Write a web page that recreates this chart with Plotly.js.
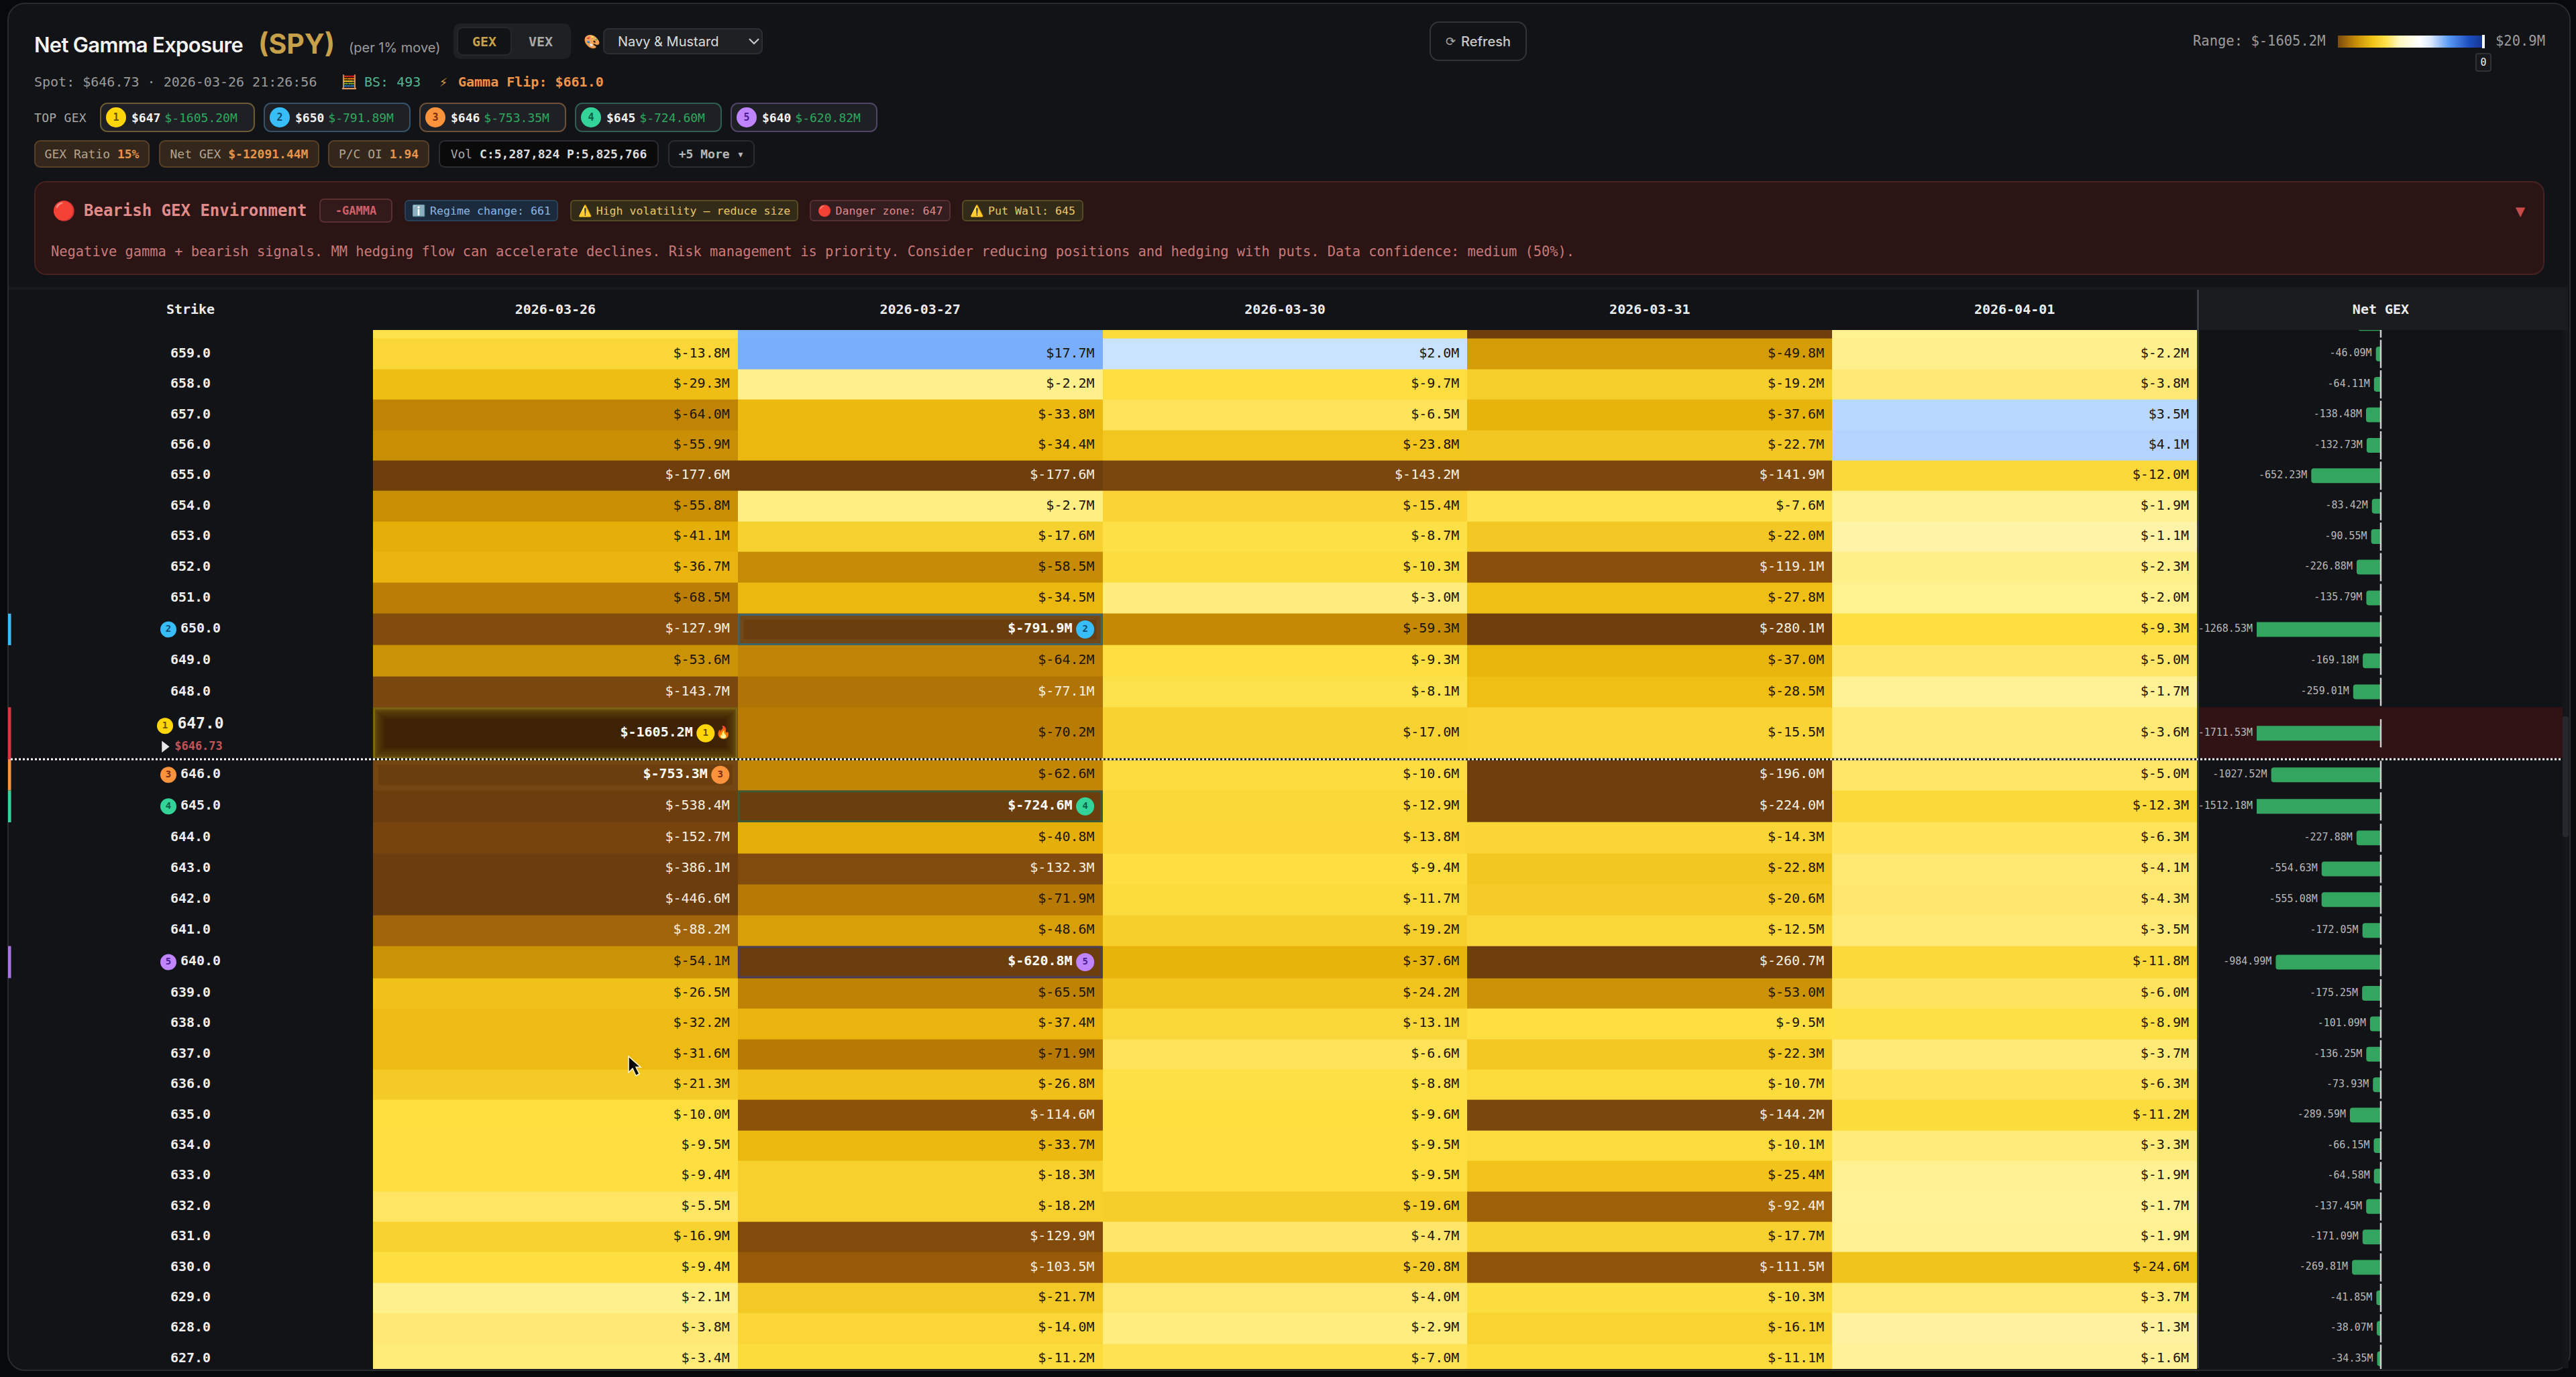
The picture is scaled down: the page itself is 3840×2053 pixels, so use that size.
<!DOCTYPE html>
<html>
<head>
<meta charset="utf-8">
<script src="https://cdn.plot.ly/plotly-3.0.1.min.js"></script>
<style>
  html, body { margin: 0; padding: 0; width: 3840px; height: 2053px; background: #08090a; overflow: hidden; }
  body { font-family: "DejaVu Sans Mono", monospace; color: #ccc; }
  #panel { position: absolute; left: 11px; top: 4px; width: 3817px; height: 2036px; background: #121316; border: 2px solid #292b2f; border-radius: 26px; }
  #plot { position: absolute; left: 0; top: 0; width: 3840px; height: 2053px; }
  .abs { position: absolute; white-space: nowrap; box-sizing: border-box; }
  .row { display: flex; align-items: center; justify-content: center; }
  .badge { display: inline-flex; align-items: center; justify-content: center; border-radius: 50%; width: 30px; height: 30px; color: #33270a; font-weight: bold; font-size: 15px; margin-right: 8px; flex: none; }
</style>
</head>
<body>
<div id="panel"></div>
<div class="abs" style="left:3279px;top:430px;width:549px;height:62px;background:#1a1c1f;border-radius:0"></div>
<div class="abs" style="left:13px;top:428px;width:3815px;height:4px;background:#191a1d"></div>
<div class="abs" style="left:3275px;top:432px;width:3px;height:1608px;background:#3a3e42"></div>
<div class="abs" style="left:3820px;top:492px;width:9px;height:1548px;background:#15161a"></div>
<div class="abs" style="left:3820px;top:1068px;width:9px;height:180px;background:#26282d;border-radius:4px"></div>
<div id="head"></div>
<div id="plot"></div>
<script>
///////////////////////////////////////////////  data /////////////////////////////////////////////////////////
var expiries = ['2026-03-26', '2026-03-27', '2026-03-30', '2026-03-31', '2026-04-01'];
var strikes = [660, 659, 658, 657, 656, 655, 654, 653, 652, 651, 650, 649, 648, 647, 646, 645, 644, 643, 642, 641, 640, 639, 638, 637, 636, 635, 634, 633, 632, 631, 630, 629, 628, 627];
// row 660 is scrolled nearly out of view, its numbers are estimated from the colour of the sliver
var gex0326 = [-8.0, -13.8, -29.3, -64.0, -55.9, -177.6, -55.8, -41.1, -36.7, -68.5, -127.9, -53.6, -143.7, -1605.2, -753.3, -538.4, -152.7, -386.1, -446.6, -88.2, -54.1, -26.5, -32.2, -31.6, -21.3, -10.0, -9.5, -9.4, -5.5, -16.9, -9.4, -2.1, -3.8, -3.4];
var gex0327 = [17.0, 17.7, -2.2, -33.8, -34.4, -177.6, -2.7, -17.6, -58.5, -34.5, -791.9, -64.2, -77.1, -70.2, -62.6, -724.6, -40.8, -132.3, -71.9, -48.6, -620.8, -65.5, -37.4, -71.9, -26.8, -114.6, -33.7, -18.3, -18.2, -129.9, -103.5, -21.7, -14.0, -11.2];
var gex0330 = [-11.0, 2.0, -9.7, -6.5, -23.8, -143.2, -15.4, -8.7, -10.3, -3.0, -59.3, -9.3, -8.1, -17.0, -10.6, -12.9, -13.8, -9.4, -11.7, -19.2, -37.6, -24.2, -13.1, -6.6, -8.8, -9.6, -9.5, -9.5, -19.6, -4.7, -20.8, -4.0, -2.9, -7.0];
var gex0331 = [-210.0, -49.8, -19.2, -37.6, -22.7, -141.9, -7.6, -22.0, -119.1, -27.8, -280.1, -37.0, -28.5, -15.5, -196.0, -224.0, -14.3, -22.8, -20.6, -12.5, -260.7, -53.0, -9.5, -22.3, -10.7, -144.2, -10.1, -25.4, -92.4, -17.7, -111.5, -10.3, -16.1, -11.1];
var gex0401 = [-2.0, -2.2, -3.8, 3.5, 4.1, -12.0, -1.9, -1.1, -2.3, -2.0, -9.3, -5.0, -1.7, -3.6, -5.0, -12.3, -6.3, -4.1, -4.3, -3.5, -11.8, -6.0, -8.9, -3.7, -6.3, -11.2, -3.3, -1.9, -1.7, -1.9, -24.6, -3.7, -1.3, -1.6];
var netGex = [-214.0, -46.09, -64.11, -138.48, -132.73, -652.23, -83.42, -90.55, -226.88, -135.79, -1268.53, -169.18, -259.01, -1711.53, -1027.52, -1512.18, -227.88, -554.63, -555.08, -172.05, -984.99, -175.25, -101.09, -136.25, -73.93, -289.59, -66.15, -64.58, -137.45, -171.09, -269.81, -41.85, -38.07, -34.35];

var rankStrikes = [647, 650, 646, 645, 640];
var rankColumns = [0, 1, 0, 1, 1];
var rankColors = ['#ffd60a', '#38bdf8', '#fb923c', '#34d399', '#c084fc'];
var rankInk = ['#6b5200', '#0c4a6e', '#7c2d12', '#065f46', '#4c1d95'];
var railColors = ['#d9363e', '#38bdf8', '#fb923c', '#34d399', '#a970e8'];
var topGexValues = ['$-1605.20M', '$-791.89M', '$-753.35M', '$-724.60M', '$-620.82M'];

var spotPrice = 646.73;
var rangeMin = -1605.2;
var rangeMax = 20.9;

// value -> colour, the scale of the app is far from linear
var colorStops = [
  [-1605.2, '#3d2204'], [-800, '#6b3e0e'], [-177, '#6e3e0c'], [-143, '#7a470e'], [-119, '#894f0b'], [-103, '#965a08'],
  [-88, '#a0650a'], [-77, '#b07305'], [-64, '#c08404'], [-53, '#cb9305'], [-49, '#d69f08'], [-41, '#e3af08'], [-34, '#ecb911'],
  [-27, '#f0c017'], [-22, '#f3c824'], [-19, '#f6cf2d'], [-12, '#fbd93a'], [-9, '#fde042'], [-6.5, '#fee359'], [-4.7, '#ffe66b'],
  [-3, '#ffec7c'], [-2.2, '#fff08c'], [-1.2, '#fff2a0'], [0, '#ffffff'], [2, '#c9e2ff'], [4, '#b4d4ff'], [17.7, '#78aefc'], [20.9, '#6ea6fb']
];

///////////////////////////////////////////////  layout numbers /////////////////////////////////////////////////////////
var W = 3840, H = 2053;
var tableTop = 492, tableBottom = 2041;
var columnLeft = 556, columnWidth = 543.8;
var rowHeight = 45.4, firstRowTop = 459.6;
// the rows are not all equal on the page, rows near the spot are a bit taller
var rowHeightOverride = { 651: 46.7, 650: 47, 649: 46.6, 648: 46, 647: 77.5, 646: 46.5, 645: 47.5, 644: 46.3, 643: 46.2, 642: 45.6, 641: 46.4, 640: 47.8 };
var netZeroPx = 3549, netClipPx = 3364, netRightPx = 3820, netPxPerM = 0.159;

function rowEdges() {
  var edges = [firstRowTop];
  strikes.forEach(function (s, i) { edges.push(edges[i] + (rowHeightOverride[s] || rowHeight)); });
  return edges;
}
var yEdges = rowEdges();
var yCenters = strikes.map(function (s, i) { return (yEdges[i] + yEdges[i + 1]) / 2; });
var xEdges = expiries.map(function (e, i) { return columnLeft + i * columnWidth; }).concat(columnLeft + expiries.length * columnWidth);
var seriesByColumn = [gex0326, gex0327, gex0330, gex0331, gex0401];

function rowOf(strike) { return strikes.indexOf(strike); }
function rankOfCell(i, c) {
  for (var r = 0; r < rankStrikes.length; r++) { if (rankStrikes[r] === strikes[i] && rankColumns[r] === c) { return r; } }
  return -1;
}
function fmtCell(v) { return (v < 0 ? '$-' : '$') + Math.abs(v).toFixed(1) + 'M'; }
function fmtNet(v) { return v.toFixed(2) + 'M'; }

///////////////////////////////////////////////  traces /////////////////////////////////////////////////////////
var colorscale = colorStops.map(function (p) { return [(p[0] - rangeMin) / (rangeMax - rangeMin), p[1]]; });
var zRows = strikes.map(function (s, i) { return seriesByColumn.map(function (col) { return col[i]; }); });

var heatTrace = { type: 'heatmap', x: xEdges, y: yEdges, z: zRows, zmin: rangeMin, zmax: rangeMax, colorscale: colorscale, showscale: false, hoverinfo: 'skip' };

var cellX = [], cellY = [], cellText = [], cellColor = [];
var topX = [], topY = [], topText = [];
var badgeX = [], badgeY = [], badgeText = [], badgeColor = [], badgeInk = [], badgeSize = [];
strikes.forEach(function (s, i) {
  if (i === 0) { return; } // row 660 has no visible text
  seriesByColumn.forEach(function (col, c) {
    var right = xEdges[c + 1], r = rankOfCell(i, c);
    if (r >= 0) {
      var flame = s === 647 ? 22 : 0;
      topX.push(right - 45 - flame); topY.push(yCenters[i]); topText.push('<b>' + fmtCell(col[i]) + '</b>');
      badgeX.push(right - 26 - flame); badgeY.push(yCenters[i]); badgeText.push(String(r + 1));
      badgeColor.push(rankColors[r]); badgeInk.push(rankInk[r]); badgeSize.push(27);
    } else {
      cellX.push(right - 12); cellY.push(yCenters[i]); cellText.push(fmtCell(col[i]));
      cellColor.push(col[i] <= -75 ? '#f7f0e0' : '#1c1405');
    }
  });
});
var cellTrace = { type: 'scatter', mode: 'text', x: cellX, y: cellY, text: cellText, textposition: 'middle left', textfont: { family: 'DejaVu Sans Mono', size: 20, color: cellColor }, hoverinfo: 'skip' };
var topTrace = { type: 'scatter', mode: 'text', x: topX, y: topY, text: topText, textposition: 'middle left', textfont: { family: 'DejaVu Sans Mono', size: 20, color: '#ffffff' }, hoverinfo: 'skip' };

// strike column
var strikeCenter = 284;
var strikeX = [], strikeY = [], strikeText = [], strikeSize = [];
strikes.forEach(function (s, i) {
  if (i === 0) { return; }
  var r = rankStrikes.indexOf(s);
  strikeX.push(r >= 0 ? strikeCenter + 15 : strikeCenter);
  strikeY.push(s === 647 ? yCenters[i] - 13 : yCenters[i]);
  strikeText.push('<b>' + s.toFixed(1) + '</b>');
  strikeSize.push(s === 647 ? 23 : 20);
  if (r >= 0) {
    badgeX.push(s === 647 ? strikeCenter - 38 : strikeCenter - 33);
    badgeY.push(s === 647 ? yCenters[i] - 11 : yCenters[i]);
    badgeText.push(String(r + 1)); badgeColor.push(rankColors[r]); badgeInk.push(rankInk[r]); badgeSize.push(24);
  }
});
var strikeTrace = { type: 'scatter', mode: 'text', x: strikeX, y: strikeY, text: strikeText, textposition: 'middle center', textfont: { family: 'DejaVu Sans Mono', size: strikeSize, color: '#eeeeee' }, hoverinfo: 'skip' };
var badgeTrace = { type: 'scatter', mode: 'markers+text', x: badgeX, y: badgeY, text: badgeText, textposition: 'middle center', marker: { size: badgeSize, color: badgeColor, opacity: 1, line: { width: 0 } }, textfont: { family: 'DejaVu Sans Mono', size: 14, color: badgeInk, weight: 700 }, hoverinfo: 'skip' };

var spotRowY = yCenters[rowOf(647)] + 20;
var spotLabelTrace = { type: 'scatter', mode: 'text', x: [296], y: [spotRowY], text: ['<b>$' + spotPrice.toFixed(2) + '</b>'], textposition: 'middle center', textfont: { family: 'DejaVu Sans Mono', size: 17, color: '#c2545a' }, hoverinfo: 'skip' };
var spotArrowTrace = { type: 'scatter', mode: 'markers', x: [245], y: [spotRowY], marker: { symbol: 'triangle-right', size: 15, color: '#e8e8e8', line: { width: 0 } }, hoverinfo: 'skip' };
var flameTrace = { type: 'scatter', mode: 'text', x: [xEdges[1] - 22], y: [yCenters[rowOf(647)]], text: ['🔥'], textposition: 'middle center', textfont: { size: 18 }, hoverinfo: 'skip' };

// net GEX panel, the bars get cut at the axis range like in the app
var netBars = { type: 'bar', orientation: 'h', xaxis: 'x2', yaxis: 'y', x: netGex, y: yCenters, width: 22, marker: { color: '#34a560', line: { width: 0 } }, hoverinfo: 'skip' };
var netLeft = -(netZeroPx - netClipPx) / netPxPerM;
var netRight = (netRightPx - netZeroPx) / netPxPerM;
// labels sit on the main axis (page pixels), points outside the range of x2 would be dropped
var netLabels = { type: 'scatter', mode: 'text',
  x: netGex.slice(1).map(function (v) { return netZeroPx + Math.max(v, netLeft) * netPxPerM - 6; }), y: yCenters.slice(1), text: netGex.slice(1).map(fmtNet),
  textposition: 'middle left', textfont: { family: 'DejaVu Sans Mono', size: 15, color: '#b8b8b8' }, hoverinfo: 'skip' };
var netZeroTicks = { type: 'scatter', mode: 'markers', xaxis: 'x2', yaxis: 'y', x: strikes.map(function () { return 0; }), y: yCenters,
  marker: { symbol: 'line-ns', size: 30, line: { width: 2.5, color: '#cfcfcf' } }, hoverinfo: 'skip' };

///////////////////////////////////////////////  shapes /////////////////////////////////////////////////////////
function cellBox(col, strike, inset, color, width, opacity) {
  var i = rowOf(strike);
  return { type: 'rect', layer: 'above', xref: 'x', yref: 'y', x0: xEdges[col] + inset, x1: xEdges[col + 1] - inset, y0: yEdges[i] + inset, y1: yEdges[i + 1] - inset, line: { color: color, width: width }, fillcolor: 'rgba(0,0,0,0)', opacity: opacity };
}
var shapes = [];
// spot row in the net panel
var spotIdx = rowOf(647);
shapes.push({ type: 'rect', layer: 'below', xref: 'x', yref: 'y', x0: 3279, x1: 3820, y0: yEdges[spotIdx], y1: yEdges[spotIdx + 1], fillcolor: '#321315', line: { width: 0 } });
// rails on the left
rankStrikes.forEach(function (s, r) {
  var i = rowOf(s);
  shapes.push({ type: 'rect', layer: 'above', xref: 'x', yref: 'y', x0: 12, x1: 16.5, y0: yEdges[i], y1: yEdges[i + 1], fillcolor: railColors[r], line: { width: 0 } });
});
// glow of the biggest cell
[[1.5, 3, 0.5], [4, 3, 0.3], [7, 3, 0.22], [10, 3, 0.15], [13, 3, 0.1], [16, 3, 0.06]].forEach(function (g) { shapes.push(cellBox(0, 647, g[0], '#b8a020', g[1], g[2])); });
shapes.push(cellBox(0, 646, 4, '#c98a3a', 8, 0.1));
shapes.push(cellBox(1, 650, 1.5, '#3f6468', 3, 1));
shapes.push(cellBox(1, 650, 6, '#a09070', 6, 0.12));
shapes.push(cellBox(1, 645, 1.5, '#3c5a36', 3, 1));
shapes.push(cellBox(1, 640, 1.5, '#4a3e58', 3, 1));
// spot line
var spotLineY = yEdges[spotIdx + 1];
shapes.push({ type: 'line', layer: 'above', xref: 'x', yref: 'y', x0: 16, x1: 3820, y0: spotLineY, y1: spotLineY, line: { color: '#101010', width: 3 } });
shapes.push({ type: 'line', layer: 'above', xref: 'x', yref: 'y', x0: 16, x1: 3820, y0: spotLineY, y1: spotLineY, line: { color: '#ffffff', width: 3, dash: '3px,3px' } });
// mouse pointer caught in the screenshot
shapes.push({ type: 'path', layer: 'above', xref: 'x', yref: 'y', path: 'M937 1575 L937 1599 L943 1593 L948 1604 L953 1601 L948 1591 L955 1591 Z', fillcolor: '#0a0a0a', line: { color: '#fff6d0', width: 1.5 } });

///////////////////////////////////////////////  plot /////////////////////////////////////////////////////////
var headerVals = [strikeCenter].concat(expiries.map(function (e, i) { return (xEdges[i] + xEdges[i + 1]) / 2; })).concat([3549]);
var headerText = ['<b>Strike</b>'].concat(expiries.map(function (e) { return '<b>' + e + '</b>'; })).concat(['<b>Net GEX</b>']);

var layout = {
  width: W, height: H, margin: { l: 0, r: 0, t: 0, b: 0, pad: 0 }, paper_bgcolor: 'rgba(0,0,0,0)', plot_bgcolor: 'rgba(0,0,0,0)',
  showlegend: false, barcornerradius: 4, shapes: shapes, dragmode: false,
  xaxis: { domain: [0, 1], range: [0, W], side: 'top', anchor: 'y', showgrid: false, zeroline: false, showline: false, ticks: 'outside', ticklen: 15, tickcolor: 'rgba(0,0,0,0)', tickmode: 'array', tickvals: headerVals, ticktext: headerText, tickfont: { family: 'DejaVu Sans Mono', size: 20, color: '#ececec' } },
  xaxis2: { domain: [netClipPx / W, netRightPx / W], range: [netLeft, netRight], anchor: 'y', showgrid: false, zeroline: false, showline: false, showticklabels: false, ticks: '' },
  yaxis: { domain: [1 - tableBottom / H, 1 - tableTop / H], range: [tableBottom, tableTop], showgrid: false, zeroline: false, showline: false, showticklabels: false, ticks: '' }
};
Plotly.newPlot('plot', [heatTrace, cellTrace, topTrace, strikeTrace, spotLabelTrace, spotArrowTrace, badgeTrace, flameTrace, netLabels, netBars, netZeroTicks], layout, { staticPlot: true, displayModeBar: false });

///////////////////////////////////////////////  page header /////////////////////////////////////////////////////////
var html = '';
function put(x, y, w, h, style, inner) {
  html += '<div class="abs row" style="left:' + x + 'px;top:' + y + 'px;' + (w ? 'width:' + w + 'px;' : '') + 'height:' + h + 'px;' + style + '">' + inner + '</div>';
}
function span(color, text, extra) { return '<span style="color:' + color + ';' + (extra || '') + '">' + text + '</span>'; }
var inter = 'font-family:Inter,sans-serif;';

put(51, 44, 0, 44, inter + 'font-size:31px;font-weight:600;color:#f4f4f4;letter-spacing:-0.7px;', 'Net Gamma Exposure');
put(385, 40, 0, 50, inter + 'font-size:41px;font-weight:700;color:#c7a04a;', '(SPY)');
put(520, 52, 0, 38, inter + 'font-size:20px;color:#9c9c9c;', '(per 1% move)');
put(676, 35, 175, 53, 'background:#1e2024;border-radius:10px;', '');
put(681, 40, 82, 43, 'background:#121316;border:2px solid #26282c;border-radius:9px;color:#c7a04a;font-size:20px;font-weight:bold;', 'GEX');
put(765, 40, 82, 43, 'color:#aaaaaa;font-size:20px;font-weight:bold;', 'VEX');
put(868, 44, 28, 36, 'font-size:20px;', '🎨');
put(899, 42, 238, 39, inter + 'background:#1e2024;border:2px solid #2c2e33;border-radius:8px;color:#dcdcdc;font-size:20px;justify-content:flex-start;padding-left:20px;', 'Navy &amp; Mustard');
put(1112, 42, 24, 39, 'color:#cccccc;', '<svg width="16" height="10"><path d="M1 1 L8 8 L15 1" stroke="#cfcfcf" stroke-width="2" fill="none"/></svg>');

put(51, 106, 0, 32, 'font-size:20px;color:#9a9a9a;', 'Spot: $' + spotPrice.toFixed(2) + ' · 2026-03-26 21:26:56');
put(508, 106, 24, 32, 'font-size:20px;', '🧮');
put(543, 106, 0, 32, 'font-size:20px;color:#4fb592;', 'BS: 493');
put(650, 106, 22, 32, 'font-size:20px;color:#e0a040;', '⚡');
put(683, 106, 0, 32, 'font-size:20px;color:#f0944a;font-weight:bold;', 'Gamma Flip: $661.0');

put(51, 155, 0, 40, 'font-size:18px;color:#a8a8a8;letter-spacing:0.3px;', 'TOP GEX');
var chipLeft = [149, 393, 625, 857, 1089], chipWidth = [231, 219, 219, 219, 219], chipBorder = ['#6b5a33', '#34536b', '#6e5038', '#2f5f50', '#514467'];
rankStrikes.forEach(function (s, r) {
  put(chipLeft[r], 153, chipWidth[r], 44, 'background:#1e2026;border:2px solid ' + chipBorder[r] + ';border-radius:11px;font-size:18px;justify-content:flex-start;padding-left:7px;',
    '<span class="badge" style="background:' + rankColors[r] + ';color:' + rankInk[r] + '">' + (r + 1) + '</span>' + span('#f2f2f2', '$' + s, 'font-weight:bold;margin-right:6px;') + span('#2fa85c', topGexValues[r]));
});

function statChip(x, w, label, value) {
  put(x, 209, w, 41, 'background:#33261b;border:2px solid #5a3f27;border-radius:9px;font-size:18px;', span('#b5a48f', label) + '&nbsp;' + span('#e8944a', value, 'font-weight:bold;'));
}
statChip(51, 172, 'GEX Ratio', '15%');
statChip(237, 239, 'Net GEX', '$-12091.44M');
statChip(489, 151, 'P/C OI', '1.94');
put(654, 209, 328, 41, 'background:#0a0a0b;border:2px solid #2a2c30;border-radius:9px;font-size:18px;', span('#a8a8a8', 'Vol') + '&nbsp;' + span('#dcdcdc', 'C:5,287,824 P:5,825,766', 'font-weight:bold;'));
put(996, 209, 129, 41, 'background:#121316;border:2px solid #2a2c30;border-radius:9px;font-size:18px;color:#b8b8b8;font-weight:bold;', '+5 More&nbsp;▾');

put(2131, 32, 145, 59, inter + 'border:2px solid #323438;border-radius:14px;font-size:20px;font-weight:500;color:#c8c8c8;', span('#aaaaaa', '⟳', 'margin-right:8px;font-size:18px;') + 'Refresh');

put(3269, 44, 0, 34, 'font-size:20.5px;color:#9c9c9c;', 'Range: $' + rangeMin.toFixed(1) + 'M');
put(3485, 53, 217, 18, 'background:linear-gradient(90deg,#7a4a10 0%,#c58a06 12%,#f0c419 24%,#ffe14a 33%,#fff7c0 42%,#ffffff 56%,#dbe9ff 64%,#5b9bf5 76%,#1d4fc0 90%,#14338f 100%);', '');
put(3700, 52, 4, 20, 'background:#ffffff;', '');
put(3720, 44, 0, 34, 'font-size:20.5px;color:#9c9c9c;', '$' + rangeMax.toFixed(1) + 'M');
put(3690, 79, 24, 28, 'background:#17181b;border:2px solid #2f3135;border-radius:4px;font-size:15px;color:#eeeeee;', '0');

put(51, 270, 3742, 140, 'background:#2a1514;border:2px solid #472221;border-radius:18px;', '');
put(79, 296, 32, 36, 'font-size:28px;', '🔴');
put(125, 296, 0, 36, 'font-size:24px;font-weight:bold;color:#e28b8b;', 'Bearish GEX Environment');
put(476, 296, 109, 36, 'background:#321a1b;border:2px solid #5b2e30;border-radius:7px;font-size:17px;font-weight:bold;color:#d0606a;', '-GAMMA');
function alertChip(x, w, bg, border, color, icon, text) {
  put(x, 298, w, 32, 'background:' + bg + ';border:2px solid ' + border + ';border-radius:6px;font-size:16.6px;color:' + color + ';', '<span style="margin-right:6px">' + icon + '</span>' + text);
}
alertChip(603, 229, '#1b2b3d', '#2a4258', '#8cb6e2', 'ℹ️', 'Regime change: 661');
alertChip(850, 340, '#322b18', '#544a26', '#e9c66c', '⚠️', 'High volatility – reduce size');
alertChip(1207, 210, '#341d1f', '#553033', '#d98a8e', '🔴', 'Danger zone: 647');
alertChip(1434, 181, '#322b18', '#544a26', '#e9c66c', '⚠️', 'Put Wall: 645');
put(76, 359, 0, 32, 'font-size:20.4px;color:#c87a7a;', 'Negative gamma + bearish signals. MM hedging flow can accelerate declines. Risk management is priority. Consider reducing positions and hedging with puts. Data confidence: medium (50%).');
put(3742, 301, 30, 28, 'font-size:24px;color:#c94c4c;', '▼');
document.getElementById('head').innerHTML = html;
</script>
</body>
</html>
